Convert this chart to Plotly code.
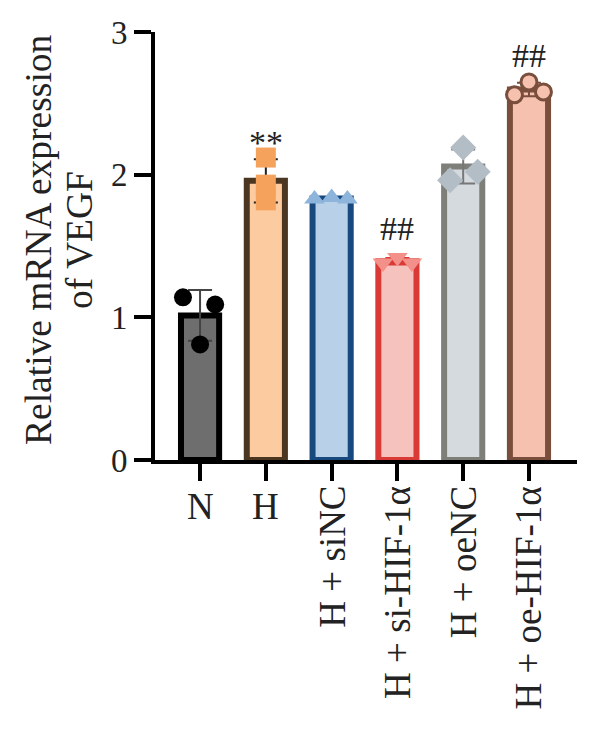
import plotly.graph_objects as go

# ---- data ----
categories = ["N", "H", "H + siNC", "H + si-HIF-1α", "H + oeNC", "H + oe-HIF-1α"]
points_N = [1.14, 1.09, 0.81]
points_H = [2.12, 1.93, 1.82]
points_siNC = [1.83, 1.84, 1.83]
points_siHIF = [1.38, 1.42, 1.38]
points_oeNC = [1.96, 2.19, 2.02]
points_oeHIF = [2.56, 2.65, 2.58]
sig_labels = ["", "**", "", "##", "", "##"]
y_ticks = [0, 1, 2, 3]
y_title_lines = ["Relative mRNA expression", "of VEGF"]

groups = [points_N, points_H, points_siNC, points_siHIF, points_oeNC, points_oeHIF]

# ---- styles ----
fills = ["#6E6E6E", "#FCCBA0", "#B9D1E8", "#F6C2BE", "#D5DADE", "#F6C1AE"]
edges = ["#000000", "#4B3621", "#17497E", "#D93A35", "#7E7F78", "#7A4E3C"]
pt_colors = ["#000000", "#F5A25D", "#8DB4DA", "#F4908A", "#B3BDC6", "#F6C1AE"]
pt_lines = ["#000000", "#F5A25D", "#8DB4DA", "#F4908A", "#B3BDC6", "#7A4E3C"]
pt_line_w = [0, 0, 0, 0, 0, 3]
pt_symbols = ["circle", "square", "triangle-up", "triangle-down", "diamond", "circle"]
pt_sizes = [18, 20, 18, 18, 20, 16]
err_colors = ["#444444", "#222222", "#17497E", "#D93A35", "#777777", "#7A4E3C"]
offsets = [[-0.26, 0.23, 0.0], [0.0, 0.0, 0.0], [-0.26, 0.0, 0.24],
           [-0.22, 0.0, 0.22], [-0.2, 0.0, 0.22], [-0.22, 0.0, 0.22]]
sig_shift = [0, 5, 0, 20, 0, 18]
title_xshift = [-117, -76]
FONT = "Liberation Serif, Times New Roman, serif"
TXT = "#222222"

means = [sum(g) / len(g) for g in groups]
sds = [(sum((v - m) ** 2 for v in g) / (len(g) - 1)) ** 0.5 for g, m in zip(groups, means)]
xs = list(range(len(categories)))

fig = go.Figure()
fig.add_trace(go.Bar(
    x=xs, y=means, width=0.58,
    marker=dict(color=fills, line=dict(color=edges, width=6)),
    showlegend=False, hoverinfo="skip"))

for i, g in enumerate(groups):
    fig.add_trace(go.Scatter(
        x=[i], y=[means[i]], mode="markers",
        marker=dict(size=1, color="rgba(0,0,0,0)"),
        error_y=dict(type="data", array=[sds[i]], visible=True,
                     color=err_colors[i], thickness=2, width=12),
        showlegend=False, hoverinfo="skip"))
    fig.add_trace(go.Scatter(
        x=[i + o for o in offsets[i]], y=g, mode="markers",
        marker=dict(symbol=pt_symbols[i], size=pt_sizes[i], color=pt_colors[i],
                    line=dict(color=pt_lines[i], width=pt_line_w[i])),
        showlegend=False, hoverinfo="skip"))

annotations = []
for i, lab in enumerate(sig_labels):
    if lab:
        annotations.append(dict(
            x=i, y=max(groups[i]), xref="x", yref="y", text=lab, showarrow=False,
            yanchor="middle", yshift=sig_shift[i] + pt_sizes[i] / 2,
            font=dict(family=FONT, size=34, color=TXT)))

for i, c in enumerate(categories):
    rot = len(c) > 2
    annotations.append(dict(
        x=i, y=0, xref="x", yref="paper", text=c, showarrow=False,
        textangle=-90 if rot else 0, xanchor="center", yanchor="top",
        yshift=-24, font=dict(family=FONT, size=37, color=TXT)))

for line, xs_ in zip(y_title_lines, title_xshift):
    annotations.append(dict(
        x=0, y=0.5, xref="paper", yref="paper", text=line, showarrow=False,
        textangle=-90, xanchor="center", yanchor="middle", xshift=xs_, yshift=6,
        font=dict(family=FONT, size=37.5, color=TXT)))

fig.update_layout(
    width=600, height=738,
    margin=dict(l=155, r=23, t=32, b=278),
    paper_bgcolor="white", plot_bgcolor="white",
    annotations=annotations,
    xaxis=dict(range=[-0.685, 5.73], tickvals=xs, showticklabels=False,
               showline=True, linewidth=4, linecolor="black",
               ticks="outside", ticklen=17, tickwidth=4, tickcolor="black",
               showgrid=False, zeroline=False),
    yaxis=dict(range=[0, 3], tickvals=y_ticks, showline=True, linewidth=4,
               linecolor="black", ticks="outside", ticklen=17, tickwidth=4,
               tickcolor="black", showgrid=False, zeroline=False,
               tickfont=dict(family=FONT, size=33, color=TXT)),
)

fig.write_html("out.html")
